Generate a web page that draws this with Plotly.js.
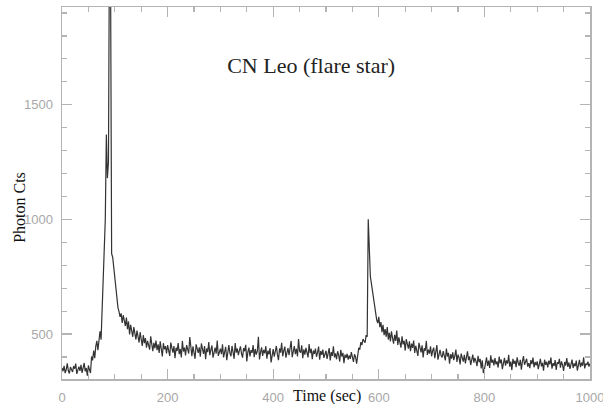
<!DOCTYPE html>
<html>
<head>
<meta charset="utf-8">
<script src="https://cdn.plot.ly/plotly-3.0.1.min.js"></script>
<style>html,body{margin:0;padding:0;background:#fff;}#chart{width:603px;height:404px;}</style>
</head>
<body>
<div id="chart"></div>
<script>
// Light curve of CN Leo, counts per 2-second bin, starting at t = 0 s
var timeStart = 0;
var timeStep = 2;
var photonCounts = [
  352, 338, 361, 330, 345, 372, 340, 328, 356, 347,
  335, 360, 349, 371, 326, 343, 358, 339, 366, 331,
  348, 374, 337, 352, 318, 363, 345, 330, 402, 385,
  428, 395, 446, 470, 430, 488, 512, 475, 600, 705,
  790, 1000, 1370, 1180, 1250, 2300, 2050, 850, 835, 790,
  770, 720, 660, 615, 598, 575, 590, 548, 582, 560,
  535, 572, 521, 555, 498, 540, 517, 488, 530, 502,
  476, 515, 492, 463, 508, 470, 448, 495, 460, 482,
  441, 470, 455, 432, 490, 447, 425, 462, 438, 472,
  430, 455, 418, 468, 441, 402, 460, 433, 447, 415,
  452, 428, 405, 463, 437, 419, 448, 395, 440, 426,
  461, 412, 435, 398, 470, 424, 441, 407, 452, 430,
  415, 487, 428, 403, 446, 420, 392, 455, 433, 418,
  442, 401, 459, 426, 413, 448, 390, 437, 421, 465,
  408, 432, 450, 397, 426, 441, 415, 472, 405, 429,
  436, 412, 455, 398, 427, 444, 386, 431, 452, 417,
  403, 448, 425, 392, 461, 419, 437, 408, 429, 446,
  414, 397, 439, 425, 453, 381, 422, 441, 402, 430,
  418, 452, 399, 435, 410, 427, 488, 389, 420, 442,
  405, 431, 416, 447, 393, 428, 411, 439, 376, 420,
  434, 401, 425, 448, 410, 386, 437, 419, 462, 403,
  428, 445, 397, 416, 439, 408, 431, 470, 399, 424,
  447, 412, 436, 402, 478, 425, 419, 451, 395, 433,
  410, 440, 423, 398, 456, 417, 436, 390, 428, 414,
  437, 401, 420, 445, 388, 426, 409, 432, 396, 418,
  427, 392, 414, 439, 385, 421, 405, 447, 398, 416,
  390, 425, 408, 380, 431, 402, 418, 373, 410, 396,
  414, 388, 407, 392, 421, 395, 379, 412, 400, 371,
  418, 440, 432, 465, 452, 478, 470, 462, 495, 488,
  1000, 835, 752, 720, 690, 640, 615, 580, 562, 548,
  575, 530, 552, 508, 540, 495, 522, 488, 530, 476,
  505, 468, 512, 482, 458, 497, 470, 515, 452, 486,
  462, 441, 490, 455, 470, 428, 478, 447, 436, 468,
  425, 458, 440, 472, 418, 449, 431, 405, 462, 437,
  420, 451, 398, 438, 427, 470, 409, 432, 415, 446,
  403, 428, 441, 395, 420, 452, 388, 415, 431, 406,
  398, 426, 410, 385, 437, 402, 418, 371, 412, 393,
  420, 386, 405, 432, 378, 410, 397, 368, 415, 391,
  380, 409, 372, 398, 425, 386, 402, 365, 391, 410,
  375, 396, 382, 360, 405, 377, 392, 350, 385, 330,
  345, 372, 398, 361, 384, 352, 407, 375, 388, 363,
  395, 368, 381, 354, 402, 372, 389, 347, 378, 396,
  362, 385, 371, 409, 358, 380, 343, 392, 370, 384,
  356, 398, 375, 362, 388, 345, 381, 404, 366, 379,
  392, 358, 373, 351, 386, 369, 397, 355, 378, 364,
  381, 347, 370, 392, 359, 375, 340, 388, 366, 379,
  355, 384, 368, 398, 349, 373, 361, 386, 344, 377,
  370, 392, 353, 381, 365, 339, 378, 362, 395, 357,
  376, 348, 368, 389, 352, 372, 360, 384, 341, 369,
  387, 356, 375, 362, 398, 350, 371, 365, 380, 358,
  372
];
var xTickValues = [0, 200, 400, 600, 800, 1000];
var yTickValues = [500, 1000, 1500];
var chartTitle = 'CN Leo (flare star)';
var xTitle = 'Time (sec)';
var yTitle = 'Photon Cts';

var timeSec = photonCounts.map(function (v, i) { return timeStart + i * timeStep; });

var serif = '"Liberation Serif", "Times New Roman", Times, serif';
var axisCommon = {
  showline: true, linecolor: '#b4b4b4', linewidth: 1.5, mirror: 'ticks',
  ticks: 'inside', tickcolor: '#b4b4b4', tickwidth: 1.2, ticklen: 10,
  showgrid: false, zeroline: false, ticklabeloverflow: 'allow',
  tickfont: {family: '"Liberation Sans", Arial, sans-serif', size: 13, color: '#a8a8a8'}
};

var layout = {
  width: 603, height: 404,
  margin: {l: 62, r: 13, t: 7, b: 25},
  paper_bgcolor: '#fff', plot_bgcolor: '#fff',
  showlegend: false,
  title: {
    text: chartTitle, x: 0.516, xanchor: 'center', y: 0.839, yanchor: 'middle',
    font: {family: serif, size: 22, color: '#222'}
  },
  xaxis: Object.assign({}, axisCommon, {
    range: [0, 1000], tickmode: 'array', tickvals: xTickValues,
    ticklabelstandoff: 6,
    minor: {ticks: 'inside', dtick: 50, tick0: 0, ticklen: 5, tickcolor: '#b4b4b4', tickwidth: 1.2, showgrid: false}
  }),
  yaxis: Object.assign({}, axisCommon, {
    range: [304, 1926], tickmode: 'array', tickvals: yTickValues,
    ticklabelstandoff: 5,
    minor: {ticks: 'inside', dtick: 100, tick0: 0, ticklen: 5, tickcolor: '#b4b4b4', tickwidth: 1.2, showgrid: false}
  }),
  annotations: [
    {text: xTitle, xref: 'paper', yref: 'paper', x: 0.501, y: -0.046, xanchor: 'center', yanchor: 'middle',
     showarrow: false, font: {family: serif, size: 16, color: '#111'}},
    {text: yTitle, xref: 'paper', yref: 'paper', x: -0.082, y: 0.462, xanchor: 'center', yanchor: 'middle',
     textangle: -90, showarrow: false, font: {family: serif, size: 16, color: '#111'}}
  ]
};

var trace = {
  type: 'scatter', mode: 'lines', x: timeSec, y: photonCounts,
  line: {color: '#333333', width: 1.2},
  hoverinfo: 'x+y'
};

Plotly.newPlot('chart', [trace], layout, {staticPlot: true, displayModeBar: false});
</script>
</body>
</html>
